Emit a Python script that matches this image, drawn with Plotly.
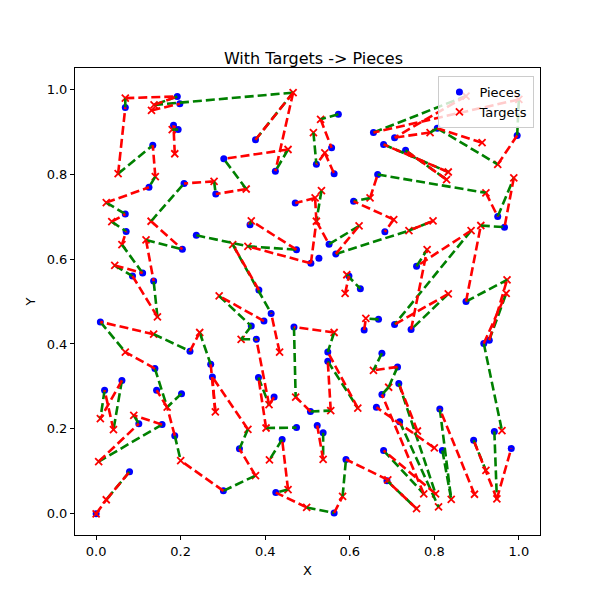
import plotly.graph_objects as go

# ---- data ----
piece_names = ["P1","P2","P3","P4","P5","P6","P7","P8","P9","P10","P11","P12","P13","P14","P15","P16","P17","P18","P19","P20",
               "P21","P22","P23","P24","P25","P26","P27","P28","P29","P30","P31","P32","P33","P34","P35","P36","P37","P38","P39","P40",
               "P41","P42","P43","P44","P45","P46","P47","P48","P49","P50","P51","P52","P53","P54","P55","P56","P57","P58","P59","P60",
               "P61","P62","P63","P64","P65","P66","P67","P68","P69","P70","P71","P72","P73","P74","P75","P76","P77","P78","P79","P80",
               "P81","P82","P83","P84","P85","P86","P87","P88","P89","P90","P91","P92","P93","P94","P95","P96","P97","P98"]
pieces_x = [0.192,0.198,0.069,0.183,0.194,0.134,0.125,0.302,0.208,0.283,0.069,0.377,0.424,0.573,0.557,0.521,0.563,0.656,0.680,0.666,
            0.609,0.471,0.706,0.732,0.807,0.996,0.950,0.071,0.204,0.237,0.086,0.110,0.136,0.010,0.222,0.139,0.271,0.364,0.474,0.508,
            0.527,0.551,0.567,0.683,0.385,0.414,0.625,0.367,0.397,0.379,0.468,0.668,0.634,0.548,0.548,0.676,0.966,0.758,0.875,0.706,
            0.745,0.917,0.930,0.713,0.275,0.020,0.061,0.143,0.202,0.101,0.156,0.186,0.301,0.079,0.000,0.384,0.421,0.507,0.474,0.523,
            0.537,0.339,0.440,0.425,0.563,0.591,0.676,0.663,0.680,0.716,0.718,0.813,0.893,0.942,0.982,0.819,0.688,0.598]
pieces_y = [0.983,0.966,0.957,0.915,0.905,0.868,0.769,0.836,0.778,0.753,0.706,0.881,0.807,0.941,0.862,0.823,0.801,0.898,0.870,0.799,
            0.736,0.732,0.886,0.856,0.908,0.891,0.700,0.665,0.623,0.656,0.560,0.567,0.548,0.452,0.383,0.342,0.352,0.681,0.622,0.590,
            0.602,0.635,0.612,0.664,0.527,0.472,0.530,0.442,0.454,0.411,0.440,0.458,0.433,0.381,0.359,0.378,0.675,0.583,0.500,0.446,
            0.434,0.401,0.409,0.346,0.322,0.291,0.314,0.291,0.283,0.212,0.210,0.184,0.054,0.099,0.000,0.321,0.275,0.241,0.203,0.208,
            0.191,0.153,0.175,0.050,0.002,0.128,0.281,0.251,0.149,0.307,0.217,0.247,0.173,0.194,0.154,0.149,0.078,0.560]

target_names = ["T1","T2","T3","T4","T5","T6","T7","T8","T9","T10","T11","T12","T13","T14","T15","T16","T17","T18","T19","T20a",
                "T20b","T21","T22","T23","T24","T25","T26","T27","T28","T29","T30","T31","T32","T33","T34","T35","T36","T37","T38","T39",
                "T40","T41","T42","T43","T44","T45","T46","T47","T48","T49","T50","T51","T52","T53","T54","T55","T56","T57","T58","T59",
                "T60","T61","T62","T63","T64","T65","T66","T67","T68","T69","T70","T71","T72","T73","T74","T75","T76","T77","T78","T79",
                "T80","T81","T82","T83","T84","T85","T86","T87","T88","T89","T90","T94"]
targets_x = [0.069,0.131,0.137,0.180,0.186,0.052,0.140,0.279,0.024,0.037,0.130,0.355,0.466,0.454,0.531,0.514,0.541,0.648,0.518,0.533,
             0.521,0.367,0.061,0.118,0.044,0.145,0.136,0.245,0.069,0.291,0.323,0.359,0.622,0.593,0.589,0.343,0.563,0.638,0.434,0.656,
             0.740,0.910,0.887,0.783,0.972,0.970,0.833,0.282,0.010,0.041,0.168,0.089,0.006,0.200,0.024,0.000,0.409,0.472,0.555,0.619,
             0.402,0.537,0.359,0.377,0.410,0.454,0.498,0.583,0.692,0.960,0.760,0.800,0.922,0.775,0.803,0.810,0.840,0.895,0.758,0.948,
             0.875,1.000,0.790,0.913,0.950,0.833,0.829,0.922,0.988,0.704,0.797,0.690]
targets_y = [0.979,0.950,0.963,0.905,0.848,0.801,0.794,0.783,0.733,0.688,0.689,0.765,0.992,0.858,0.929,0.898,0.850,0.744,0.744,0.761,
             0.689,0.690,0.634,0.645,0.585,0.464,0.423,0.427,0.381,0.513,0.634,0.630,0.678,0.563,0.519,0.411,0.427,0.460,0.381,0.338,
             0.667,0.679,0.667,0.622,0.551,0.519,0.518,0.240,0.224,0.198,0.251,0.232,0.123,0.125,0.033,0.000,0.257,0.275,0.243,0.249,
             0.202,0.128,0.199,0.090,0.127,0.057,0.015,0.041,0.298,0.196,0.195,0.155,0.102,0.047,0.047,0.016,0.034,0.046,0.012,0.035,
             0.984,0.976,0.898,0.874,0.823,0.805,0.787,0.756,0.791,0.693,0.690,0.080]

green_links = [("T1","P3"),("T6","P6"),("T7","P7"),("T9","P11"),("T10","P28"),("T22","P32"),("T24","P31"),("T25","P33"),
               ("T23","P29"),("T11","P9"),("T8","P10"),("T12","P8"),("T14","P13"),("T3","T13"),("P1","T3"),("P12","T13"),
               ("P5","T4"),("P14","T15"),("T16","P16"),("P18","T80"),("T82","P25"),("P25","T84"),("P26","T81"),("P20","T87"),
               ("P27","T88"),("P19","T85"),("P24","T86"),("P43","T40"),("T40","T90"),("T42","P60"),("P58","T43"),("T46","P61"),
               ("T41","P57"),("P59","T44"),("P63","T45"),("P62","T69"),("P38","T21"),("T31","P39"),("P30","T31"),("P42","T32"),
               ("T33","P47"),("T20a","T20b"),("P34","T28"),("T26","P35"),("T27","P37"),("T29","P48"),("T36","P54"),("P51","T57"),
               ("P55","T59"),("P78","T58"),("T60","P79"),("P76","T56"),("P66","T48"),("P67","T49"),("T51","P70"),("P71","T52"),
               ("P74","T54"),("P36","T50"),("P72","T53"),("P73","T63"),("T62","P82"),("P83","T64"),("T65","P84"),("T66","P85"),
               ("T67","P86"),("P81","T61"),("P56","T39"),("P52","T37"),("P64","T68"),("T68","P87"),("P90","T74"),("P91","T75"),
               ("P92","T76"),("P96","T76"),("P94","T79"),("P89","T73"),("P97","T78"),("P48","T35"),("T35","P50"),("T18","P21"),
               ("P69","T50"),("P93","T72"),("T30","P46")]
red_links = [("P1","T1"),("P2","T2"),("P1","T3"),("P3","T6"),("P6","T7"),("P7","T9"),("P11","T10"),("P28","T22"),("P32","T24"),
             ("P31","T25"),("P33","T23"),("P29","T11"),("P9","T8"),("P10","T12"),("P8","T14"),("P13","T13"),("P12","T13"),
             ("P4","T5"),("P15","T15"),("P16","T17"),("P17","T17"),("P18","T81"),("P23","T80"),("P23","T82"),("P25","T83"),
             ("P26","T84"),("P27","T87"),("P57","T88"),("P19","T85"),("P24","T86"),("P21","T89"),("P44","T89"),("T40","T90"),
             ("P20","T18"),("P22","T19"),("T19","T20b"),("P58","T42"),("T43","P61"),("P60","T46"),("T41","P59"),("T44","P63"),
             ("T45","P62"),("T21","P39"),("T30","P45"),("T31","P40"),("T20b","P40"),("T32","P43"),("P98","T34"),("P34","T26"),
             ("T27","P35"),("T28","P36"),("T29","P49"),("P46","T38"),("P50","T56"),("P51","T36"),("P55","T58"),("P54","T59"),
             ("T57","P78"),("P76","T60"),("P77","T56"),("P66","T49"),("T48","P67"),("T51","P71"),("P70","T52"),("P74","T54"),
             ("T54","P75"),("T53","P73"),("T50","P72"),("P68","T50"),("P65","T62"),("P82","T63"),("P80","T61"),("P83","T65"),
             ("P84","T66"),("T67","P85"),("P86","T94"),("P87","T73"),("P93","T79"),("P95","T79"),("P92","T77"),("P97","T78"),
             ("P89","T74"),("P88","T71"),("P90","T70"),("T39","P64"),("T37","P53"),("P42","T20b"),("P37","T47"),("P65","T47")]

# ---- build ----
pos = {}
for n, x, y in zip(piece_names, pieces_x, pieces_y):
    pos[n] = (x, y)
for n, x, y in zip(target_names, targets_x, targets_y):
    pos[n] = (x, y)

def seg_xy(links, reverse=False):
    xs, ys = [], []
    for a, b in links:
        if reverse:
            a, b = b, a
        xs += [pos[a][0], pos[b][0], None]
        ys += [pos[a][1], pos[b][1], None]
    return xs, ys

fig = go.Figure()
fig.add_trace(go.Scatter(x=pieces_x, y=pieces_y, mode="markers", name="Pieces",
                         marker=dict(color="blue", size=7, symbol="circle", line=dict(width=0))))
fig.add_trace(go.Scatter(x=targets_x, y=targets_y, mode="markers", name="Targets",
                         marker=dict(color="red", size=7, symbol="x-thin", line=dict(color="red", width=1.8))))
gx, gy = seg_xy(green_links)
fig.add_trace(go.Scatter(x=gx, y=gy, mode="lines", showlegend=False, hoverinfo="skip",
                         line=dict(color="green", width=2.6, dash="9px,4px")))
rx, ry = seg_xy(red_links, reverse=True)
fig.add_trace(go.Scatter(x=rx, y=ry, mode="lines", showlegend=False, hoverinfo="skip",
                         line=dict(color="red", width=2.6, dash="9px,4px")))

axis_common = dict(showline=True, linecolor="black", linewidth=1, mirror=True, ticks="outside",
                   ticklen=4, tickwidth=1, tickcolor="black", showgrid=False, zeroline=False,
                   tickfont=dict(size=13, color="black"), tickformat=".1f", dtick=0.2, automargin=False)
fig.update_layout(
    width=592, height=592,
    margin=dict(l=67, r=60, t=60, b=65),
    paper_bgcolor="white", plot_bgcolor="white",
    font=dict(family="DejaVu Sans", color="black", size=13),
    title=dict(text="With Targets -> Pieces", x=0.516, xanchor="center", y=1 - 50 / 592, yanchor="middle",
               font=dict(size=16, color="black")),
    xaxis=dict(range=[-0.05, 1.05], title=dict(text="X", standoff=8, font=dict(size=13)), **axis_common),
    yaxis=dict(range=[-0.05, 1.05], title=dict(text="Y", standoff=8, font=dict(size=13)), **axis_common),
    legend=dict(x=0.988, y=0.983, xanchor="right", yanchor="top", bgcolor="rgba(255,255,255,0.8)",
                bordercolor="#cccccc", borderwidth=1, font=dict(size=13), itemwidth=30,
                tracegroupgap=2),
)
fig.write_html("out.html")
